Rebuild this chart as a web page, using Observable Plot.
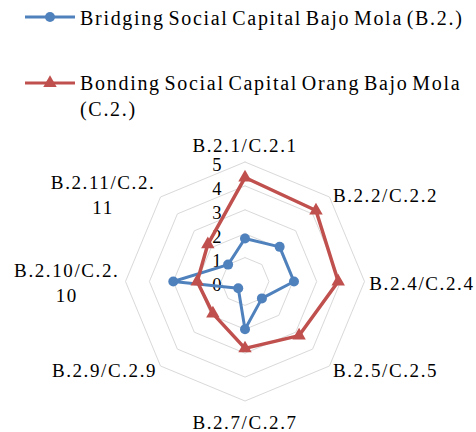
<!DOCTYPE html>
<html><head><meta charset="utf-8">
<script src="https://cdn.jsdelivr.net/npm/d3@7"></script>
<script src="https://cdn.jsdelivr.net/npm/@observablehq/plot@0.6"></script>
<style>
body{margin:0;background:#fff;}
#wrap{position:relative;width:476px;height:432px;overflow:hidden;font-family:"Liberation Serif","Times New Roman",serif;}
.leg{position:absolute;font-size:20px;letter-spacing:1.7px;word-spacing:-3px;line-height:26px;color:#000;white-space:normal;}
#chart{position:absolute;left:0;top:130px;}
#chart svg{overflow:visible;}
</style></head><body>
<div id="wrap">
  <svg id="sw" style="position:absolute;left:0;top:0" width="90" height="110"></svg>
  <div class="leg" id="l1" style="left:80px;top:5px;width:395px"></div>
  <div class="leg" id="l2" style="left:80px;top:70px;width:395px"></div>
  <div id="chart"></div>
</div>
<script>
const axes = ["B.2.1/C.2.1","B.2.2/C.2.2","B.2.4/C.2.4","B.2.5/C.2.5","B.2.7/C.2.7","B.2.9/C.2.9","B.2.10/C.2.10","B.2.11/C.2.11"];
const axisLabels = ["B.2.1/C.2.1","B.2.2/C.2.2","B.2.4/C.2.4","B.2.5/C.2.5","B.2.7/C.2.7","B.2.9/C.2.9","B.2.10/C.2.\n10","B.2.11/C.2.\n11"];
const seriesNames = ["Bridging Social Capital Bajo Mola (B.2.)","Bonding Social Capital Orang Bajo Mola (C.2.)"];
const bridging = [1.8, 2.05, 2.05, 1.0, 2.0, 0.4, 3.0, 1.0];
const bonding = [4.35, 4.2, 3.9, 3.2, 2.8, 1.9, 2.0, 2.2];
const ticks = [0, 1, 2, 3, 4, 5];
const colors = ["#4f81bd", "#c0504d"];

// legend
document.getElementById("l1").textContent = seriesNames[0];
document.getElementById("l2").textContent = seriesNames[1];
const sw = d3.select("#sw");
sw.append("line").attr("x1",25).attr("x2",75).attr("y1",17).attr("y2",17).attr("stroke",colors[0]).attr("stroke-width",3);
sw.append("circle").attr("cx",50).attr("cy",17).attr("r",5).attr("fill",colors[0]);
sw.append("line").attr("x1",25).attr("x2",75).attr("y1",83).attr("y2",83).attr("stroke",colors[1]).attr("stroke-width",3);
sw.append("path").attr("d",d3.symbol(d3.symbolTriangle, Math.PI*25)()).attr("transform","translate(50,83)").attr("fill",colors[1]);

const n = axes.length;
const ang = i => i * 2 * Math.PI / n;
const px = (r, i) => r * Math.sin(ang(i));
const py = (r, i) => r * Math.cos(ang(i));

const grid = [];
for (const t of ticks.slice(1)) for (let i = 0; i <= n; i++) grid.push({level: t, i: i % n});
const blue = axes.map((a, i) => ({i, v: bridging[i]}));
const red = axes.map((a, i) => ({i, v: bonding[i]}));
const labels = axes.map((a, i) => ({i, label: axisLabels[i]}));
const LR = 5.2;

const k = 23.9, cx = 244.5, cy = 151, W = 476, H = 302;
const lbl = (filter, opts) => Plot.text(labels.filter(filter), {
  x: d => px(LR, d.i), y: d => py(LR, d.i), text: "label",
  fontSize: 19, fill: "#000", lineHeight: 1.32, ...opts
});

const chart = Plot.plot({
  width: W, height: H,
  marginTop: 0, marginRight: 0, marginBottom: 0, marginLeft: 0,
  x: {domain: [-cx / k, (W - cx) / k], axis: null},
  y: {domain: [-(H - cy) / k, cy / k], axis: null},
  style: {fontFamily: "'Liberation Serif','Times New Roman',serif", background: "transparent", letterSpacing: "1.6px"},
  marks: [
    Plot.line(grid, {x: d => px(d.level, d.i), y: d => py(d.level, d.i), z: "level", stroke: "#d9d9d9", strokeWidth: 1}),
    Plot.text(ticks, {x: () => 0, y: d => d, text: d => String(d), textAnchor: "end", dx: -22, dy: 3.5, fontSize: 18.5, fill: "#000"}),
    lbl(d => d.i >= 1 && d.i <= 3, {textAnchor: "start"}),
    lbl(d => d.i === 5, {textAnchor: "end"}),
    lbl(d => d.i === 6 || d.i === 7, {textAnchor: "middle", dx: -54}),
    lbl(d => d.i === 0, {textAnchor: "middle", dy: -13}),
    lbl(d => d.i === 4, {textAnchor: "middle", dy: 15}),
    Plot.line(blue, {x: d => px(d.v, d.i), y: d => py(d.v, d.i), stroke: colors[0], strokeWidth: 3, curve: "linear-closed"}),
    Plot.dot(blue, {x: d => px(d.v, d.i), y: d => py(d.v, d.i), r: 5, fill: colors[0], symbol: "circle"}),
    Plot.line(red, {x: d => px(d.v, d.i), y: d => py(d.v, d.i), stroke: colors[1], strokeWidth: 3.5, curve: "linear-closed"}),
    Plot.dot(red, {x: d => px(d.v, d.i), y: d => py(d.v, d.i), r: 5, fill: colors[1], symbol: "triangle"})
  ]
});
document.getElementById("chart").appendChild(chart);
</script>
</body></html>
